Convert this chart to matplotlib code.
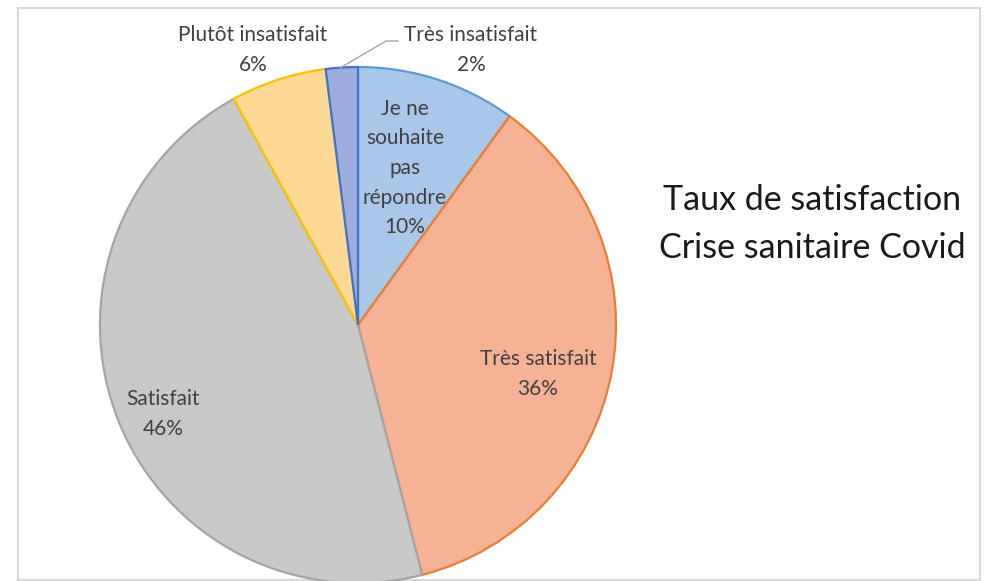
import numpy as np
import matplotlib.pyplot as plt

# Données
labels = ["Je ne\nsouhaite\npas\nrépondre", "Très satisfait", "Satisfait",
          "Plutôt insatisfait", "Très insatisfait"]
values = [10, 36, 46, 6, 2]
faces = ["#A9C7E9", "#F5B295", "#C8C8C8", "#FED993", "#9DADDF"]
edges = ["#5B9BD5", "#ED7D31", "#A5A5A5", "#FFC000", "#4472C4"]

# positions des étiquettes (pixels)
label_pos = [(405, 168), (538, 374), (163, 414), (253, 50), (471, 50)]

W, H = 991, 581
fig = plt.figure(figsize=(W / 100, H / 100), dpi=100)
ax = fig.add_axes([0, 0, 1, 1])

# cadre
ax.add_patch(plt.Rectangle((18, 1), 962, H - 9, fill=False,
                           edgecolor="#D9D9D9", linewidth=1.5))

wedges, _ = ax.pie(values, startangle=90, counterclock=False,
                   center=(358, H - 325), radius=258, frame=True,
                   colors=faces, wedgeprops=dict(linewidth=1.6))
for w, e in zip(wedges, edges):
    w.set_edgecolor(e)
ax.set_xlim(0, W)
ax.set_ylim(0, H)
ax.set_aspect("auto")
ax.axis("off")

font = "Lato"
for lab, v, (x, y) in zip(labels, values, label_pos):
    ax.text(x, H - y, f"{lab}\n{v}%", ha="center", va="center",
            fontsize=15, family=font, color="#404040", linespacing=1.6)

# ligne de rappel
ax.plot([340, 386, 398], [H - 68, H - 41, H - 41], color="#A5A5A5", lw=1)

ax.text(812, H - 224, "Taux de satisfaction\nCrise sanitaire Covid",
        ha="center", va="center", fontsize=24.5, family=font,
        color="#1A1A1A", linespacing=1.6)

fig.savefig("out.png", dpi=100)
